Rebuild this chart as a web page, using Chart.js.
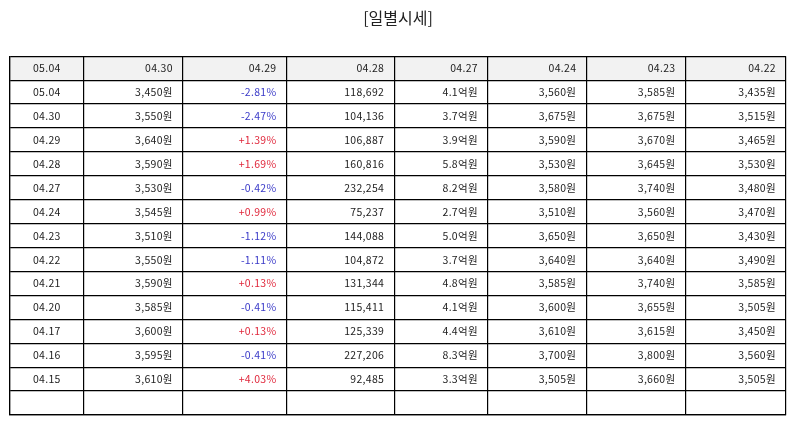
<!DOCTYPE html>
<html>
<head>
<meta charset="utf-8">
<script src="https://cdn.jsdelivr.net/npm/chart.js@4/dist/chart.umd.min.js"></script>
<style>
  html, body { margin: 0; padding: 0; background: #fff; }
  #wrap { width: 794px; height: 425px; }
</style>
</head>
<body>
<div id="wrap"><canvas id="tabella" width="794" height="425"></canvas></div>
<script>
// dati della tabella
const intestazioni = ['05.04', '04.30', '04.29', '04.28', '04.27', '04.24', '04.23', '04.22'];
const date = ['05.04', '04.30', '04.29', '04.28', '04.27', '04.24', '04.23', '04.22', '04.21', '04.20', '04.17', '04.16', '04.15'];
const prezzi = [3450, 3550, 3640, 3590, 3530, 3545, 3510, 3550, 3590, 3585, 3600, 3595, 3610];
const variazioni = [-2.81, -2.47, 1.39, 1.69, -0.42, 0.99, -1.12, -1.11, 0.13, -0.41, 0.13, -0.41, 4.03];
const volumi = [118692, 104136, 106887, 160816, 232254, 75237, 144088, 104872, 131344, 115411, 125339, 227206, 92485];
const importi = [4.1, 3.7, 3.9, 5.8, 8.2, 2.7, 5.0, 3.7, 4.8, 4.1, 4.4, 8.3, 3.3];
const aperture = [3560, 3675, 3590, 3530, 3580, 3510, 3650, 3640, 3585, 3600, 3610, 3700, 3505];
const massimi = [3585, 3675, 3670, 3645, 3740, 3560, 3650, 3640, 3740, 3655, 3615, 3800, 3660];
const minimi = [3435, 3515, 3465, 3530, 3480, 3470, 3430, 3490, 3585, 3505, 3450, 3560, 3505];

// larghezze relative delle colonne (layout)
const larghezzeColonne = [73.5, 99, 104, 108, 92, 99, 99, 100.5];
const righeVuote = 1;

const bordi = [0];
larghezzeColonne.forEach(w => bordi.push(bordi[bordi.length - 1] + w));
const totaleLarghezza = bordi[bordi.length - 1];
const numRighe = 1 + date.length + righeVuote;

function won(v) { return v.toLocaleString('en-US') + '원'; }
function perc(v) { return (v > 0 ? '+' : '') + v.toFixed(2) + '%'; }

// celle: una riga per data
const celle = [];
celle.push(intestazioni.map(t => ({ testo: t, colore: '#222' })));
for (let i = 0; i < date.length; i++) {
    const coloreVar = variazioni[i] < 0 ? '#3a3ac8' : '#e0283c';
    celle.push([
        { testo: date[i], colore: '#222' },
        { testo: won(prezzi[i]), colore: '#222' },
        { testo: perc(variazioni[i]), colore: coloreVar },
        { testo: volumi[i].toLocaleString('en-US'), colore: '#222' },
        { testo: importi[i].toFixed(1) + '억원', colore: '#222' },
        { testo: won(aperture[i]), colore: '#222' },
        { testo: won(massimi[i]), colore: '#222' },
        { testo: won(minimi[i]), colore: '#222' }
    ]);
}

const pluginTabella = {
    id: 'pluginTabella',
    beforeDraw(chart) {
        const ctx = chart.ctx;
        const x = chart.scales.x, y = chart.scales.y;
        ctx.save();
        ctx.fillStyle = '#f2f2f2';
        const x0 = x.getPixelForValue(0), x1 = x.getPixelForValue(totaleLarghezza);
        const y0 = y.getPixelForValue(0), y1 = y.getPixelForValue(1);
        ctx.fillRect(x0, y0, x1 - x0, y1 - y0);
        ctx.restore();
    },
    afterDatasetsDraw(chart) {
        const ctx = chart.ctx;
        const x = chart.scales.x, y = chart.scales.y;
        ctx.save();
        ctx.font = '10.5px "Noto Sans CJK KR", "Noto Sans", sans-serif';
        ctx.letterSpacing = '0.3px';
        ctx.textBaseline = 'middle';
        celle.forEach((riga, r) => {
            const cy = y.getPixelForValue(r + 0.5);
            riga.forEach((cella, c) => {
                const sx = x.getPixelForValue(bordi[c]);
                const dx = x.getPixelForValue(bordi[c + 1]);
                ctx.fillStyle = cella.colore;
                if (c === 0) {
                    ctx.textAlign = 'center';
                    ctx.fillText(cella.testo, (sx + dx) / 2, cy);
                } else {
                    ctx.textAlign = 'right';
                    ctx.fillText(cella.testo, dx - (dx - sx) * 0.1, cy);
                }
            });
        });
        ctx.restore();
    }
};

const griglia = { color: '#000', lineWidth: 1.2, drawTicks: false };

new Chart(document.getElementById('tabella'), {
    type: 'scatter',
    data: { datasets: [{ data: [], pointRadius: 0 }] },
    options: {
        responsive: false,
        animation: false,
        events: [],
        layout: { padding: { left: 10, right: 8, bottom: 10, top: 0 } },
        plugins: {
            legend: { display: false },
            tooltip: { enabled: false },
            title: {
                display: true,
                text: '[일별시세]',
                color: '#222',
                font: { family: '"Noto Sans CJK KR", "Noto Sans", sans-serif', size: 16, weight: 'normal' },
                padding: { top: 8, bottom: 29 }
            }
        },
        scales: {
            x: {
                type: 'linear',
                min: 0,
                max: totaleLarghezza,
                afterBuildTicks: s => { s.ticks = bordi.map(v => ({ value: v })); },
                ticks: { display: false },
                grid: griglia,
                border: { display: true, color: '#000', width: 1.2 }
            },
            y: {
                type: 'linear',
                reverse: true,
                min: 0,
                max: numRighe,
                afterBuildTicks: s => {
                    s.ticks = [];
                    for (let i = 0; i <= numRighe; i++) s.ticks.push({ value: i });
                },
                ticks: { display: false },
                grid: griglia,
                border: { display: true, color: '#000', width: 1.2 }
            }
        }
    },
    plugins: [pluginTabella]
});
</script>
</body>
</html>
